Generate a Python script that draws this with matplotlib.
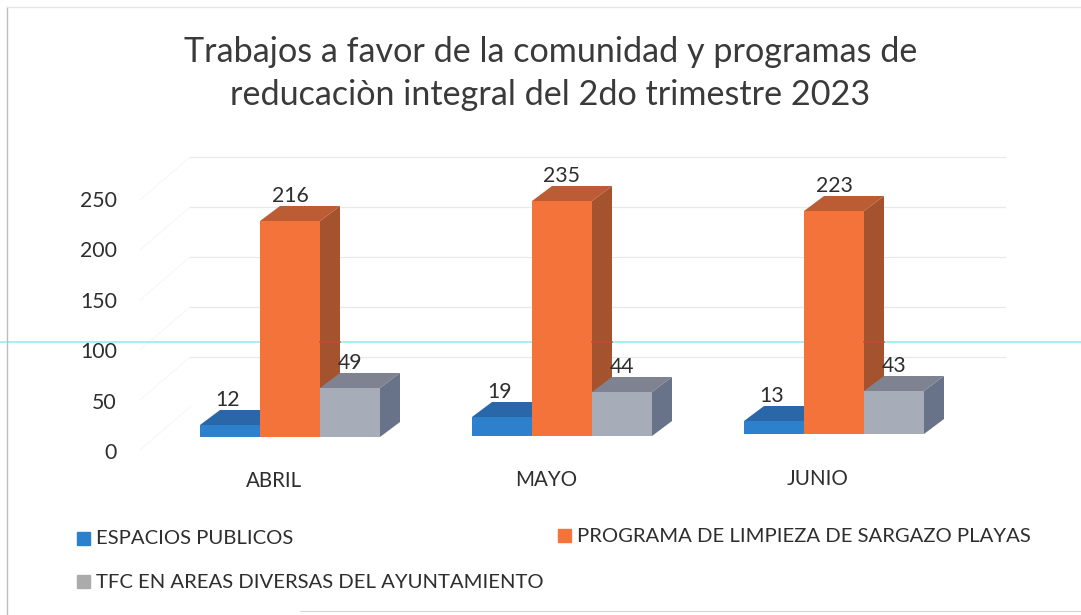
import matplotlib
matplotlib.use('Agg')
import matplotlib.pyplot as plt
from matplotlib.patches import Polygon, Rectangle

plt.rcParams['font.family'] = ['Lato', 'DejaVu Sans']

# Data
months = ['ABRIL', 'MAYO', 'JUNIO']
series_names = ['ESPACIOS PUBLICOS', 'PROGRAMA DE LIMPIEZA DE SARGAZO PLAYAS',
                'TFC EN AREAS DIVERSAS DEL AYUNTAMIENTO']
espacios = [12, 19, 13]
limpieza = [216, 235, 223]
tfc = [49, 44, 43]
yticks = [0, 50, 100, 150, 200, 250]

front = ['#2C80CC', '#F4733A', '#A6ADB8']
top = ['#2A67A8', '#BC5C35', '#7F8391']
side = ['#245E9C', '#A5532F', '#68738A']
text_col = '#2E2E2E'

# Scale: 1 px = 1 y unit, one group = 272 px
px = 1 / 272.0
bar_w = 60 * px
depth_x = 20 * px
depth_y = 15
wall_y = 30
tilt = [0, 1, 3]
scan_y = 95

fig = plt.figure(figsize=(10.81, 6.15), dpi=100)
ax = fig.add_axes([0, 0, 1, 1])
ax.set_xlim(-290 * px, 791 * px)
ax.set_ylim(-178, 437)
ax.axis('off')

# Wall gridlines and slanted floor lines
for v in yticks:
    if v > 0:
        ax.plot([-100 * px, 715 * px], [v + wall_y, v + wall_y], color='#E8E8E8', lw=0.9, zorder=1)
    ax.plot([-150 * px, -100 * px], [v - 13, v + wall_y], color='#F7F7F7', lw=0.8, zorder=1)
    ax.text(-173 * px, v * 1.008 - 16, str(v), ha='right', va='center', fontsize=15.3, color=text_col)

# Scanner line
ax.axhline(scan_y, color='#A0EEF0', lw=1.3, zorder=1)

# Bars with fake 3D top and side faces
for s, vals in enumerate([espacios, limpieza, tfc]):
    off = (s - 1) * bar_w
    ax.bar([i + off for i in range(3)], vals, width=bar_w, bottom=tilt,
           color=front[s], zorder=3 + s)
    for i, v in enumerate(vals):
        l = i + off - bar_w / 2
        r = l + bar_w
        b = tilt[i]
        t = b + v
        ax.add_patch(Polygon([(l, t), (r, t), (r + depth_x, t + depth_y), (l + depth_x, t + depth_y)],
                             color=top[s], lw=0, zorder=3 + s))
        ax.add_patch(Polygon([(r, b), (r, t), (r + depth_x, t + depth_y), (r + depth_x, b + depth_y)],
                             color=side[s], lw=0, zorder=3 + s))
        if s == 1:
            # scanner line shows red over the dark side face
            ax.plot([r, r + depth_x], [scan_y, scan_y], color='#C8453A', lw=1.1, zorder=3 + s)
        ax.text(i + off - (2 * px if s == 0 else 0), t + 25, str(v), ha='center', va='center',
                fontsize=15.3, color=text_col, zorder=10)

for i, m in enumerate(months):
    ax.text(i - 16 * px, -44 + i, m, ha='center', va='center', fontsize=14.8, color=text_col)

# Title
fig.text(0.509, 0.916, 'Trabajos a favor de la comunidad y programas de', ha='center', va='center',
         fontsize=24.6, color='#3A3A3A')
fig.text(0.509, 0.845, 'reducaciòn integral del 2do trimestre 2023', ha='center', va='center',
         fontsize=24.6, color='#3A3A3A')

# Legend
legend_pos = [(77, 539), (558, 536), (77, 582)]
for s, (x, y) in enumerate(legend_pos):
    fig.add_artist(Rectangle((x / 1081, 1 - (y + 6) / 615), 13 / 1081, 13 / 615, color=front[s] if s != 2 else '#ABABAB',
                             transform=fig.transFigure))
    fig.text((x + 19) / 1081, 1 - y / 615, series_names[s], ha='left', va='center', fontsize=14.55, color=text_col)

# Scanned frame
fig.add_artist(plt.Line2D([7 / 1081, 7 / 1081], [0, 1 - 7 / 615], color='#BDBDBD', lw=1))
fig.add_artist(plt.Line2D([7 / 1081, 1], [1 - 7 / 615, 1 - 7 / 615], color='#E6E6E6', lw=0.9))
fig.add_artist(plt.Line2D([300 / 1081, 1], [4 / 615, 4 / 615], color='#D8D8D8', lw=0.9))

fig.savefig('out.png', dpi=100)
